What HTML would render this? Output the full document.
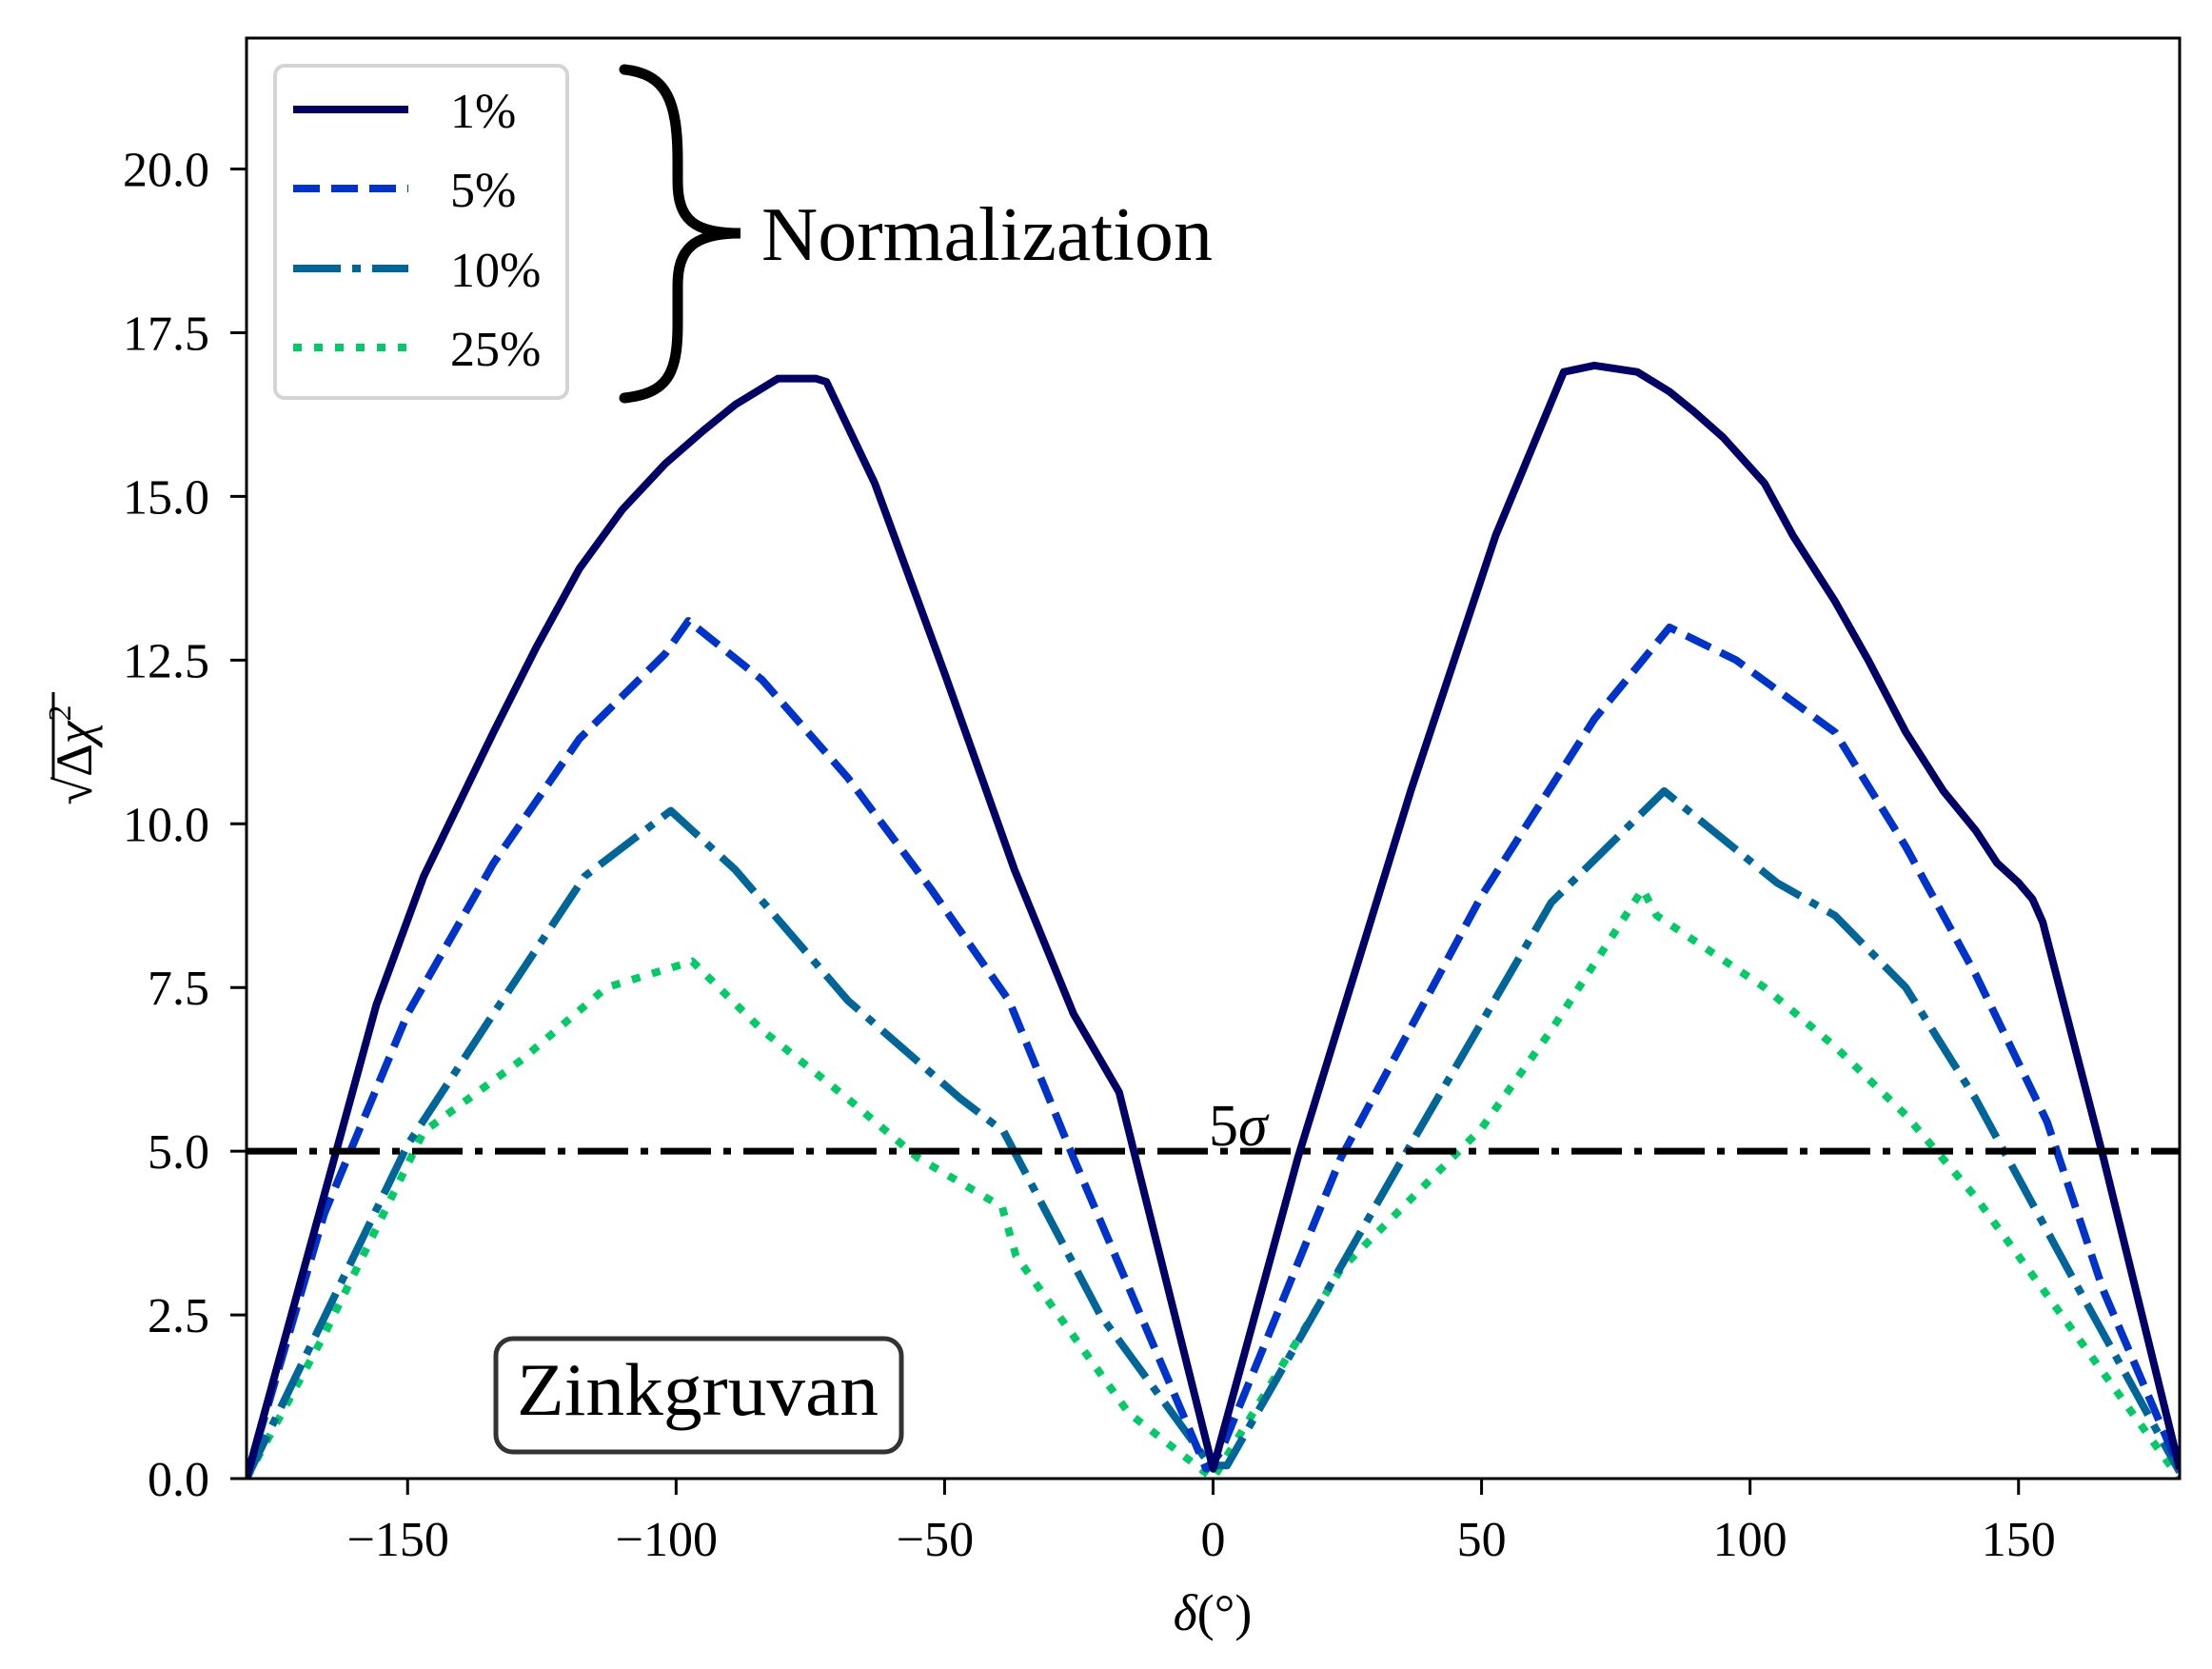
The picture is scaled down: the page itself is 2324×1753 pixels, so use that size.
<!DOCTYPE html>
<html><head><meta charset="utf-8"><style>
html,body{margin:0;padding:0;background:#fff;}
svg{display:block;font-family:"Liberation Serif",serif;}
</style></head><body>
<svg id="chart" width="2324" height="1753" viewBox="0 0 2324 1753" xmlns="http://www.w3.org/2000/svg">
<rect width="2324" height="1753" fill="#fff"/>
<g id="plot"></g>
<g id="axes"></g>
</svg>
<script>
const xTicks = [-150,-100,-50,0,50,100,150];
const yTicks = [0,2.5,5,7.5,10,12.5,15,17.5,20];
const yTickLabels = ["0.0","2.5","5.0","7.5","10.0","12.5","15.0","17.5","20.0"];
const seriesNames = ["1%","5%","10%","25%"];
const d1x = [-180,-155.8,-147,-134,-126,-118,-110,-102,-95,-89,-81,-74,-72,-63,-50,-37,-26,-17.5,0,15.8,36.8,52.6,65.3,71,79,85,89.5,95,102.7,108,115.8,122,129,136,142,146,150,152.6,154.5,165.8,180];
const d1y = [0,7.24,9.2,11.4,12.7,13.9,14.8,15.5,16.0,16.4,16.8,16.8,16.75,15.2,12.3,9.3,7.1,5.9,0.15,4.9,10.5,14.4,16.9,17.0,16.9,16.6,16.3,15.9,15.2,14.4,13.4,12.5,11.4,10.5,9.9,9.4,9.1,8.85,8.5,4.9,0.15];
const d5x = [-180,-165.5,-150,-134,-118,-102,-97.7,-84,-68,-52.5,-38,-26,-1.3,1.4,23.8,50,71,85,97.4,115.8,129,142,155.3,165.8,180];
const d5y = [0,4.05,7.1,9.4,11.3,12.6,13.1,12.2,10.7,9.0,7.3,4.9,0.15,0.4,4.9,8.9,11.6,13.0,12.5,11.4,9.65,7.7,5.45,2.87,0.15];
const d10x = [-180,-150,-134,-117,-101,-89,-68,-47,-39,-21,-0.5,2.6,36.8,63,84,105,115.8,129,142,160.5,180];
const d10y = [0,5.1,7.1,9.2,10.2,9.3,7.3,5.8,5.3,2.5,0.2,0.2,5.1,8.8,10.5,9.1,8.6,7.5,5.8,3.0,0.1];
const d25x = [-180,-165.5,-147,-128.7,-113,-97,-84,-68,-55,-39.3,-36.7,-15.7,0,23.8,50,63,80,82.6,102.7,115.8,129,142,158,180];
const d25y = [0,2.2,5.3,6.4,7.5,7.9,6.85,5.8,4.9,4.15,3.4,1.0,0,3.2,5.35,6.85,9.0,8.6,7.5,6.6,5.55,4.3,2.5,0];
const sigmaLevel = 5;

const L=259,R=2290,T=40,B=1553, XMIN=-180,XMAX=180,YMIN=0,YMAX=22;
const sx=v=>L+(v-XMIN)/(XMAX-XMIN)*(R-L);
const sy=v=>B-(v-YMIN)/(YMAX-YMIN)*(B-T);
const NS="http://www.w3.org/2000/svg";
function mk(tag,attrs,parent){const e=document.createElementNS(NS,tag);for(const k in attrs)e.setAttribute(k,attrs[k]);parent.appendChild(e);return e;}
const plot=document.getElementById('plot'), axes=document.getElementById('axes');

mk('clipPath',{id:'clip'},plot);
mk('rect',{x:L,y:T,width:R-L,height:B-T},document.getElementById('clip'));

const styles=[
 {c:'#000066',d:'none'},
 {c:'#0033cc',d:'28 12'},
 {c:'#006699',d:'50 12 9 12'},
 {c:'#00cc66',d:'9 13'}];
const xs=[d1x,d5x,d10x,d25x], ys=[d1y,d5y,d10y,d25y];
for(let s=3;s>=0;s--){
  const pts=xs[s].map((x,i)=>sx(x).toFixed(1)+','+sy(ys[s][i]).toFixed(1)).join(' ');
  const p=mk('polyline',{points:pts,fill:'none',stroke:styles[s].c,'stroke-width':8,'stroke-dasharray':styles[s].d,'stroke-linejoin':'round','clip-path':'url(#clip)'},plot);
  
  
}
const sl=mk('line',{x1:L,x2:R,y1:sy(sigmaLevel),y2:sy(sigmaLevel),stroke:'#000','stroke-width':7,'stroke-dasharray':'53 13 8 13'},plot);


const st=mk('text',{x:1270,y:sy(sigmaLevel)-6,'font-size':62},plot);


st.innerHTML='5<tspan font-style="italic">σ</tspan>';

const fr=mk('rect',{x:L,y:T,width:R-L,height:B-T,fill:'none',stroke:'#000','stroke-width':3},axes);



xTicks.forEach(v=>{
  const t=mk('line',{x1:sx(v),x2:sx(v),y1:B,y2:B+17,stroke:'#000','stroke-width':3},axes);
  
  
  const lb=mk('text',{x:sx(v)-(v<0?10:0),y:1634,'font-size':52,'text-anchor':'middle'},axes);
  
  
  lb.textContent=(v<0?'−':'')+Math.abs(v);
});
yTicks.forEach((v,i)=>{
  const t=mk('line',{x1:L-17,x2:L,y1:sy(v),y2:sy(v),stroke:'#000','stroke-width':3},axes);
  
  
  const lb=mk('text',{x:220,y:sy(v)+18,'font-size':52,'text-anchor':'end'},axes);
  
  
  lb.textContent=yTickLabels[i];
});
const xt=mk('text',{x:1274,y:1712,'font-size':54,'text-anchor':'middle'},axes);


xt.innerHTML='<tspan font-style="italic">δ</tspan>(°)';
const yg=mk('g',{transform:'translate(96,793) rotate(-90)'},axes);


const yt=mk('text',{x:0,y:0,'font-size':54,'text-anchor':'middle'},yg);
yt.innerHTML='√<tspan>Δ</tspan><tspan font-style="italic">χ</tspan><tspan font-size="34" dy="-22">2</tspan>';
mk('line',{x1:-26,x2:66,y1:-40,y2:-40,stroke:'#000','stroke-width':3},yg);

const lg=mk('g',{},axes);


mk('rect',{x:289,y:69,width:307,height:349,rx:10,fill:'#fff',stroke:'#d4d4d4','stroke-width':4},lg);
const ly=[115,198,282,365];
for(let s=0;s<4;s++){
  const e=mk('g',{},lg);
  
  
  mk('line',{x1:308,x2:429,y1:ly[s],y2:ly[s],stroke:styles[s].c,'stroke-width':8,'stroke-dasharray':styles[s].d},e);
  const t=mk('text',{x:473,y:ly[s]+19,'font-size':52},e);
  t.textContent=seriesNames[s];
}
const br=mk('path',{d:'M656,73 C700,78 712,105 712,170 L712,190 C712,230 728,245 778,245 C728,245 712,262 712,300 L712,340 C712,395 700,413 656,418',fill:'none',stroke:'#000','stroke-width':11,'stroke-linecap':'round'},axes);


const nt=mk('text',{x:800,y:273,'font-size':80,textLength:474,lengthAdjust:'spacingAndGlyphs'},axes);


nt.textContent='Normalization';
const zg=mk('g',{},axes);


mk('rect',{x:521,y:1406,width:426,height:119,rx:18,fill:'#fff',stroke:'#333','stroke-width':5},zg);
const zt=mk('text',{x:543,y:1486,'font-size':78,textLength:380,lengthAdjust:'spacingAndGlyphs'},zg);
zt.textContent='Zinkgruvan';
</script>
</body></html>
